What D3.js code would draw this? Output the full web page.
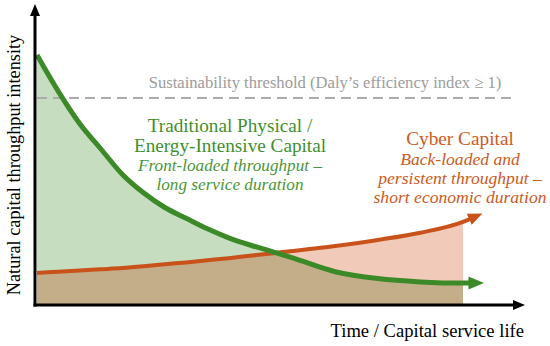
<!DOCTYPE html>
<html lang="en">
<head>
<meta charset="UTF-8">
<script src="https://cdn.jsdelivr.net/npm/d3@7"></script>
<style>
    body { margin: 0; background: #fff; }
    svg { display: block; }
    text { font-family: "Liberation Serif", "DejaVu Serif", serif; }
</style>
</head>
<body>
<div id="chart"></div>
<script>
    // time grid (arbitrary units, 10 = end of service life shown)
    const time = [0, 0.5, 1, 1.5, 2, 2.5, 3, 3.5, 4, 4.5, 5, 5.5, 6, 7, 8, 9, 10, 10.25];
    // traditional physical capital throughput (front-loaded)
    const physical = [8.33, 7.12, 6.05, 5.2, 4.36, 3.74, 3.25, 2.89, 2.54, 2.24, 2.0, 1.79, 1.57, 1.11, 0.88, 0.77, 0.73, 0.73];
    // cyber capital throughput (back-loaded)
    const cyber = [1.07, 1.11, 1.15, 1.19, 1.23, 1.29, 1.36, 1.42, 1.49, 1.56, 1.64, 1.72, 1.8, 1.97, 2.17, 2.41, 2.77, 2.92];
    const fillEnd = 10;
    const threshold = 6.9;

    const thresholdLabel = "Sustainability threshold (Daly\u2019s efficiency index \u2265 1)";
    const physicalTitle = ["Traditional Physical /", "Energy-Intensive Capital"];
    const physicalNote = ["Front-loaded throughput \u2013", "long service duration"];
    const cyberTitle = ["Cyber Capital"];
    const cyberNote = ["Back-loaded and", "persistent throughput \u2013", "short economic duration"];
    const xLabel = "Time / Capital service life";
    const yLabel = "Natural capital throughput intensity";

    const width = 550, height = 346;
    const green = "#3b8a27", orange = "#c9521b";

    const x = d3.scaleLinear().domain([0, 10]).range([37, 463]);
    const y = d3.scaleLinear().domain([0, 10]).range([305, 5]);

    const rows = time.map((t, i) => ({ t, p: physical[i], c: cyber[i] }));
    const filled = rows.filter(d => d.t <= fillEnd);

    const svg = d3.select("#chart").append("svg")
        .attr("width", width)
        .attr("height", height);

    const defs = svg.append("defs");
    function arrow(id, color, size) {
        defs.append("marker")
            .attr("id", id)
            .attr("markerUnits", "userSpaceOnUse")
            .attr("viewBox", "-10 -10 20 20")
            .attr("markerWidth", 20)
            .attr("markerHeight", 20)
            .attr("refX", 0)
            .attr("refY", 0)
            .attr("orient", "auto")
            .append("path")
            .attr("d", `M${-size * 0.4},${-size * 0.5}L${size * 0.8},0L${-size * 0.4},${size * 0.5}Z`)
            .attr("fill", color);
    }
    arrow("arrow-green", green, 13);
    arrow("arrow-orange", orange, 12);
    arrow("arrow-black", "#000", 10);

    // fills: each series area, then the shared part underneath both
    const area = key => d3.area()
        .x(d => x(d.t))
        .y0(y(0))
        .y1(d => y(key(d)))
        .curve(d3.curveMonotoneX);

    svg.append("path")
        .datum(filled)
        .attr("d", area(d => d.p))
        .attr("fill", "#c6ddc0");

    svg.append("path")
        .datum(filled)
        .attr("d", area(d => d.c))
        .attr("fill", "#f1cab9");

    svg.append("path")
        .datum(filled)
        .attr("d", area(d => Math.min(d.p, d.c)))
        .attr("fill", "#c4ae8a");

    // threshold
    svg.append("line")
        .attr("x1", x(0)).attr("x2", 517)
        .attr("y1", y(threshold)).attr("y2", y(threshold))
        .attr("stroke", "#ababab")
        .attr("stroke-width", 2)
        .attr("stroke-dasharray", "10,6");

    svg.append("text")
        .attr("x", 325).attr("y", 88)
        .attr("text-anchor", "middle")
        .attr("fill", "#9c9c9c")
        .attr("font-size", 16.6)
        .text(thresholdLabel);

    // curves
    const line = key => d3.line()
        .x(d => x(d.t))
        .y(d => y(key(d)))
        .curve(d3.curveMonotoneX);

    svg.append("path")
        .datum(rows)
        .attr("d", line(d => d.c))
        .attr("fill", "none")
        .attr("stroke", orange)
        .attr("stroke-width", 4)
        .attr("marker-end", "url(#arrow-orange)");

    svg.append("path")
        .datum(rows)
        .attr("d", line(d => d.p))
        .attr("fill", "none")
        .attr("stroke", green)
        .attr("stroke-width", 5)
        .attr("marker-end", "url(#arrow-green)");

    // axes
    svg.append("line")
        .attr("x1", 35).attr("x2", 35)
        .attr("y1", 306.5).attr("y2", 12)
        .attr("stroke", "#000").attr("stroke-width", 3)
        .attr("marker-end", "url(#arrow-black)");

    svg.append("line")
        .attr("x1", 33.5).attr("x2", 517)
        .attr("y1", 305).attr("y2", 305)
        .attr("stroke", "#000").attr("stroke-width", 3)
        .attr("marker-end", "url(#arrow-black)");

    svg.append("text")
        .attr("x", 524).attr("y", 337)
        .attr("text-anchor", "end")
        .attr("font-size", 18.6)
        .text(xLabel);

    svg.append("text")
        .attr("transform", "translate(20,165) rotate(-90)")
        .attr("text-anchor", "middle")
        .attr("font-size", 18.3)
        .text(yLabel);

    // annotations
    function block(lines, cx, y0, step, size, color, italic) {
        svg.append("g").selectAll("text")
            .data(lines)
            .join("text")
            .attr("x", cx)
            .attr("y", (d, i) => y0 + i * step)
            .attr("text-anchor", "middle")
            .attr("fill", color)
            .attr("font-size", size)
            .attr("font-style", italic ? "italic" : "normal")
            .text(d => d);
    }
    block(physicalTitle, 230, 132, 20, 19.2, "#3f8f2c", false);
    block(physicalNote, 230, 171, 19, 17.2, "#4a9636", true);
    block(cyberTitle, 460, 145, 20, 19.3, "#cc5a22", false);
    block(cyberNote, 460, 165, 19, 17.6, "#cc5a22", true);
</script>
</body>
</html>
